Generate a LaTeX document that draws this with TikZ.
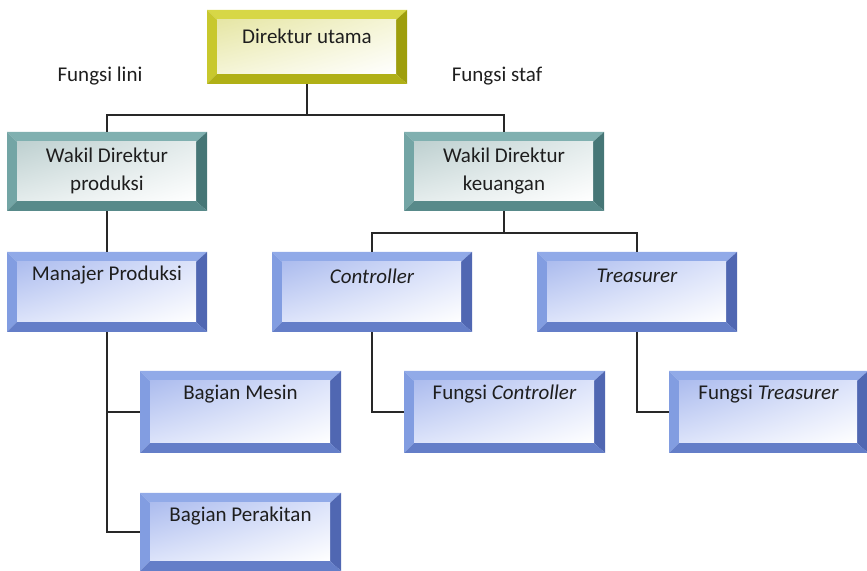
\documentclass[tikz,border=0pt]{standalone}
\usepackage{fontspec}
\setmainfont{Carlito}
\usetikzlibrary{shadings}
\definecolor{txt}{RGB}{30,30,30}
\definecolor{lin}{RGB}{40,40,40}
% yellow scheme
\definecolor{yelT}{RGB}{215,215,70}
\definecolor{yelL}{RGB}{200,200,45}
\definecolor{yelR}{RGB}{158,158,12}
\definecolor{yelB}{RGB}{176,176,22}
\definecolor{yelI}{RGB}{230,230,165}
\definecolor{yelM}{RGB}{245,245,215}
% teal scheme
\definecolor{tealT}{RGB}{128,176,176}
\definecolor{tealL}{RGB}{115,165,165}
\definecolor{tealR}{RGB}{70,118,118}
\definecolor{tealB}{RGB}{88,138,138}
\definecolor{tealI}{RGB}{190,208,208}
\definecolor{tealM}{RGB}{228,236,236}
% blue scheme
\definecolor{bluT}{RGB}{145,170,232}
\definecolor{bluL}{RGB}{130,157,225}
\definecolor{bluR}{RGB}{80,103,178}
\definecolor{bluB}{RGB}{100,126,200}
\definecolor{bluI}{RGB}{172,188,238}
\definecolor{bluM}{RGB}{220,227,250}
\newcommand\bevelfill[1]{%
  \coordinate (bNW) at (path picture bounding box.north west);
  \coordinate (bNE) at (path picture bounding box.north east);
  \coordinate (bSW) at (path picture bounding box.south west);
  \coordinate (bSE) at (path picture bounding box.south east);
  \coordinate (iNW) at ([shift={(10,-10)}]bNW);
  \coordinate (iNE) at ([shift={(-11,-10)}]bNE);
  \coordinate (iSW) at ([shift={(10,10)}]bSW);
  \coordinate (iSE) at ([shift={(-11,10)}]bSE);
  \fill[#1T] (bNW) -- (bNE) -- (iNE) -- (iNW) -- cycle;
  \fill[#1L] (bNW) -- (iNW) -- (iSW) -- (bSW) -- cycle;
  \fill[#1R] (bNE) -- (bSE) -- (iSE) -- (iNE) -- cycle;
  \fill[#1B] (bSW) -- (iSW) -- (iSE) -- (bSE) -- cycle;
  \shade[upper left=#1I, upper right=#1M, lower left=#1M, lower right=white]
    (iSW) rectangle (iNE);
}
\begin{document}
\begin{tikzpicture}[x=1pt,y=1pt,
  box/.style={inner sep=0pt, minimum width=200pt, minimum height=80pt,
    path picture={\bevelfill{#1}}},
  lbl/.style={font=\fontsize{21}{28}\selectfont, text=txt, align=center,
    inner sep=0pt},
  conn/.style={draw=lin, line width=1.3pt}]
\useasboundingbox (0,0) rectangle (867,570);

% boxes
\node[box=yel, minimum height=74pt] (du) at (307,523) {};
\node[box=teal, minimum height=79pt] (wp) at (107,398.5) {};
\node[box=teal, minimum height=79pt] (wk) at (504,398.5) {};
\node[box=blu] (mp) at (107,278) {};
\node[box=blu] (ctrl) at (372,278) {};
\node[box=blu] (tr) at (637,278) {};
\node[box=blu, minimum width=201pt, minimum height=82pt] (bm) at (240.5,158) {};
\node[box=blu, minimum width=201pt, minimum height=82pt] (fc) at (504.5,158) {};
\node[box=blu, minimum width=199pt, minimum height=82pt] (ft) at (768.5,158) {};
\node[box=blu, minimum width=201pt, minimum height=78pt] (bp) at (240.5,38) {};

% texts
\node[lbl] (tdu) at ([yshift=-26pt]du.north) {Direktur utama};
\node[lbl] (twp) at ([yshift=-39pt]wp.north) {Wakil Direktur\\produksi};
\node[lbl] (twk) at ([yshift=-39pt]wk.north) {Wakil Direktur\\keuangan};
\node[lbl] (tmp) at ([yshift=-23pt]mp.north) {Manajer Produksi};
\node[lbl] (tctrl) at ([yshift=-24pt]ctrl.north) {\itshape Controller};
\node[lbl] (ttr) at ([yshift=-24pt]tr.north) {\itshape Treasurer};
\node[lbl] (tbm) at ([yshift=-23pt]bm.north) {Bagian Mesin};
\node[lbl] (tfc) at ([yshift=-23pt]fc.north) {Fungsi \textit{Controller}};
\node[lbl] (tft) at ([yshift=-23pt]ft.north) {Fungsi \textit{Treasurer}};
\node[lbl] (tbp) at ([yshift=-23pt]bp.north) {Bagian Perakitan};
\node[lbl] (fl) at (100,494) {Fungsi lini};
\node[lbl] (fs) at (497,494) {Fungsi staf};

% connectors
\coordinate (j1) at (307,455);
\coordinate (j2) at (504,337);
\draw[conn] (du.south) -- (j1);
\draw[conn] (wp.north) |- (j1) -| (wk.north);
\draw[conn] (wp.south) -- (mp.north);
\draw[conn] (mp.south) |- (bm.west);
\draw[conn] (mp.south) |- (bp.west);
\draw[conn] (wk.south) -- (j2);
\draw[conn] (ctrl.north) |- (j2) -| (tr.north);
\draw[conn] (ctrl.south) |- (fc.west);
\draw[conn] (tr.south) |- (ft.west);
\end{tikzpicture}
\end{document}
